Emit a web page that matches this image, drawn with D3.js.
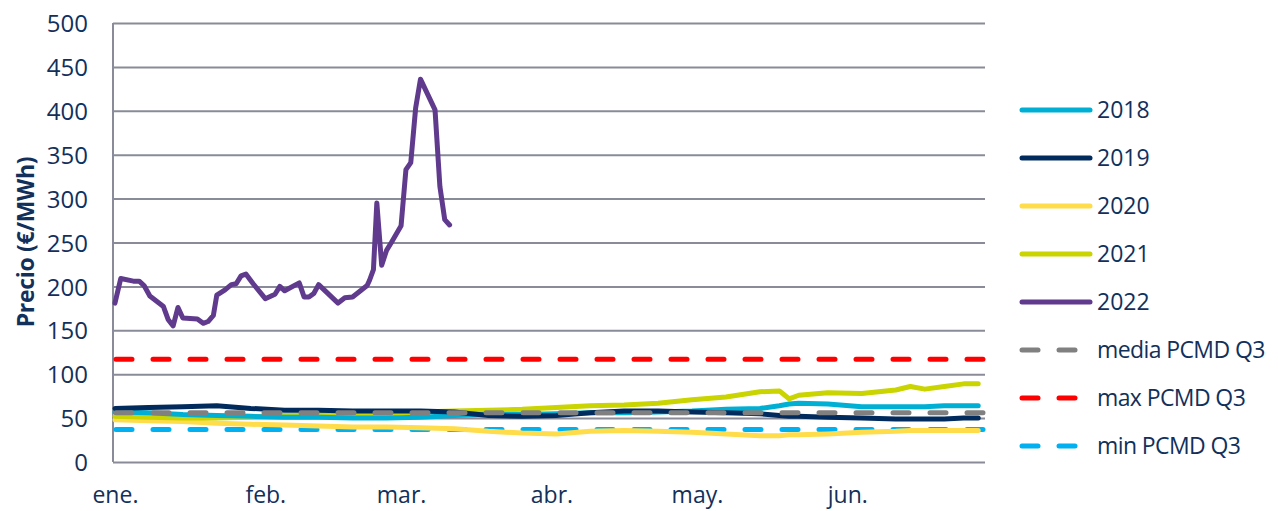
<!DOCTYPE html>
<html>
<head>
<meta charset="utf-8">
<script src="https://cdn.jsdelivr.net/npm/d3@7"></script>
<style>
  body { margin: 0; background: #fff; }
  text { font-family: "Open Sans", sans-serif; fill: #12305a; }
</style>
</head>
<body>
<div id="chart"></div>
<script>
// day of year (0 = 1 Jan) for the historic series
const days = [0, 7, 14, 21, 28, 35, 42, 49, 56, 63, 70, 77, 84, 91, 98, 105, 112, 119, 126, 133, 137, 139, 141, 147, 154, 161, 164, 167, 171, 175, 178];
const y2018 = [57, 56, 54, 53, 52, 51, 51, 50, 50, 51, 53, 54, 54, 55, 56, 56, 57, 58, 60, 61, 64, 66, 67, 66, 63, 63, 63, 63, 64, 64, 64];
const y2019 = [61, 62, 63, 64, 61, 59, 59, 58, 58, 58, 57, 53, 52, 53, 56, 58, 58, 57, 56, 55, 53, 52, 52, 51, 50, 49, 49, 49, 49, 50, 50];
const y2020 = [48, 47, 46, 44, 43, 42, 41, 40, 40, 39, 38, 35, 33, 32, 35, 36, 35, 34, 32, 30, 30, 31, 31, 32, 34, 35, 36, 36, 36, 36, 36];
const y2021 = [52, 51, 50, 50, 51, 53, 54, 54, 55, 57, 58, 59, 60, 62, 64, 65, 67, 71, 74, 80, 81, 72, 76, 79, 78, 82, 86, 83, 86, 89, 89];

const days2022 = [0, 1.2, 3.8, 5, 6, 7.2, 10, 11, 12, 13, 14, 17, 18.2, 19.2, 20.3, 21, 22.7, 24, 25, 26, 27, 28.5, 31, 33, 34, 35, 38, 39, 40, 41, 42, 46, 47.4, 49, 52, 52.5, 53.3, 54, 55, 56, 57, 59, 60, 61, 62, 63, 66, 67, 68, 69];
const y2022 = [181, 209, 206, 206, 201, 189, 177, 162, 155, 176, 164, 163, 158, 160, 167, 190, 196, 202, 203, 212, 214, 203, 186, 191, 200, 195, 204, 188, 188, 192, 202, 181, 187, 188, 201, 207, 219, 295, 224, 241, 250, 269, 333, 341, 403, 436, 401, 314, 276, 270];

// PCMD Q3 reference levels
const mediaQ3 = 56;
const maxQ3 = 117;
const minQ3 = 37;

const monthDays = [0, 31, 59, 90, 120, 151];
const monthLabels = ["ene.", "feb.", "mar.", "abr.", "may.", "jun."];
const yTicks = [0, 50, 100, 150, 200, 250, 300, 350, 400, 450, 500];

const seriesNames = ["2018", "2019", "2020", "2021", "2022"];
const seriesColors = ["#00b0d4", "#002b5c", "#ffdc4a", "#c9d400", "#5f3a8d"];
const refNames = ["media PCMD Q3", "max PCMD Q3", "min PCMD Q3"];
const refColors = ["#808080", "#ff0000", "#00b0f0"];

const W = 1278, H = 511;
const margin = { top: 23, right: 293, bottom: 49, left: 113 };
const width = W - margin.left - margin.right;
const height = H - margin.top - margin.bottom;

const svg = d3.select("#chart").append("svg")
  .attr("width", W)
  .attr("height", H);

const g = svg.append("g")
  .attr("transform", `translate(${margin.left},${margin.top})`);

const x = d3.scaleLinear().domain([-0.4, 179.4]).range([0, width]);
const y = d3.scaleLinear().domain([0, 500]).range([height, 0]);

// grid + y axis
const yAxis = g.append("g")
  .call(d3.axisLeft(y).tickValues(yTicks).tickSize(-width).tickPadding(25));
yAxis.select(".domain").remove();
yAxis.selectAll(".tick line").attr("stroke", "#898c98").attr("stroke-width", 2);
yAxis.selectAll(".tick text")
  .style("font-size", "24px")
  .attr("fill", "#12305a")
  .attr("dy", "0.36em");

g.append("line")
  .attr("x1", 0).attr("x2", 0)
  .attr("y1", 0).attr("y2", height)
  .attr("stroke", "#898c98").attr("stroke-width", 2);

// x axis
const xAxis = g.append("g")
  .attr("transform", `translate(0,${height})`)
  .call(d3.axisBottom(x).tickValues(monthDays).tickFormat((d, i) => monthLabels[i]).tickSize(0));
xAxis.select(".domain").remove();
xAxis.selectAll(".tick text")
  .style("font-size", "23px")
  .attr("fill", "#12305a")
  .attr("y", 41)
  .attr("dy", 0);

// y title
svg.append("text")
  .attr("transform", "translate(34,242) rotate(-90)")
  .attr("text-anchor", "middle")
  .style("font-size", "23px")
  .style("font-weight", "bold")
  .attr("letter-spacing", "-0.3")
  .text("Precio (€/MWh)");

const line = d3.line().x(d => x(d[0])).y(d => y(d[1]));

const histValues = [y2018, y2019, y2020, y2021];
const refValues = [mediaQ3, maxQ3, minQ3];

function refLine(v, color) {
  g.append("path")
    .datum([[x.domain()[0], v], [x.domain()[1], v]])
    .attr("d", line)
    .attr("fill", "none")
    .attr("stroke", color)
    .attr("stroke-width", 5)
    .attr("stroke-linecap", "round")
    .attr("stroke-dasharray", "16,21")
    .attr("stroke-dashoffset", -3);
}

refLine(maxQ3, refColors[1]);
refLine(minQ3, refColors[2]);

// yearly series, drawn so that the order matches the reference
const drawOrder = [2, 3, 0, 1];
drawOrder.forEach(i => {
  g.append("path")
    .datum(days.map((d, k) => [d, histValues[i][k]]))
    .attr("d", line)
    .attr("fill", "none")
    .attr("stroke", seriesColors[i])
    .attr("stroke-width", 5)
    .attr("stroke-linejoin", "round")
    .attr("stroke-linecap", "round");
});

// media dashed on top of the series
refLine(mediaQ3, refColors[0]);

g.append("path")
  .datum(days2022.map((d, k) => [d, y2022[k]]))
  .attr("d", line)
  .attr("fill", "none")
  .attr("stroke", seriesColors[4])
  .attr("stroke-width", 5)
  .attr("stroke-linejoin", "round")
  .attr("stroke-linecap", "round");

// legend
const legend = svg.append("g").attr("transform", "translate(1020,110)");
const rowGap = 48;
seriesNames.forEach((name, i) => {
  const r = legend.append("g").attr("transform", `translate(0,${i * rowGap})`);
  r.append("line").attr("x1", 2).attr("x2", 70)
    .attr("stroke", seriesColors[i]).attr("stroke-width", 5).attr("stroke-linecap", "round");
  r.append("text").attr("x", 77).attr("dy", "0.36em").style("font-size", "23px").text(name);
});
refNames.forEach((name, i) => {
  const r = legend.append("g").attr("transform", `translate(0,${(i + 5) * rowGap})`);
  r.append("line").attr("x1", 2).attr("x2", 18)
    .attr("stroke", refColors[i]).attr("stroke-width", 5).attr("stroke-linecap", "round");
  r.append("line").attr("x1", 39).attr("x2", 55)
    .attr("stroke", refColors[i]).attr("stroke-width", 5).attr("stroke-linecap", "round");
  r.append("text").attr("x", 77).attr("dy", "0.36em").style("font-size", "23px")
    .attr("letter-spacing", "-0.6").text(name);
});
</script>
</body>
</html>
